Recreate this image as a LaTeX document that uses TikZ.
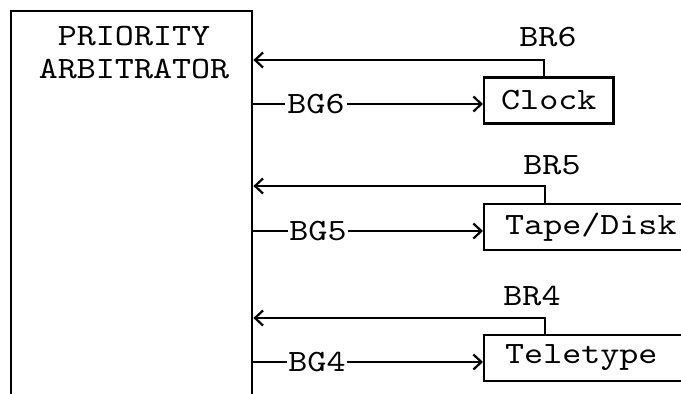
\documentclass[tikz,border=0pt]{standalone}
\usepackage{fontspec}
\setmonofont[FakeStretch=1.17]{lmmono10-regular.otf}
\usetikzlibrary{arrows.meta}
\tikzset{
  lbl/.style={font=\fontsize{31}{33}\selectfont\ttfamily, inner sep=0pt},
  dev/.style={draw, line width=2.4pt, inner ysep=0pt, minimum height=46pt, anchor=west,
              font=\fontsize{31}{33}\selectfont\ttfamily},
  wire/.style={line width=2.2pt},
  tip/.style={-{Straight Barb[length=8pt,width=15pt,line width=2.2pt]}},
}
\begin{document}
\begin{tikzpicture}[x=1pt,y=-1pt]
\useasboundingbox (0,0) rectangle (681,394);
\clip (0,0) rectangle (681,394);
\fill[white] (0,0) rectangle (681,394);
% arbitrator
\node[draw, line width=2.4pt, minimum width=241pt, minimum height=420pt, anchor=north west, inner sep=0pt] (arb) at (10,10) {};
\node[lbl, align=center] (arbtext) at (134,53) {PRIORITY\\ARBITRATOR};
% devices
\node[dev, minimum width=129pt, inner xsep=17pt] (clock) at (483,100.5) {Clock};
\node[dev, text width=210pt, align=left, inner xsep=21pt] (tape) at (483,227) {Tape/Disk};
\node[dev, text width=210pt, align=left, inner xsep=21pt] (tty) at (483,358) {Teletype};
% request points
\coordinate (br6) at (544,60);
\coordinate (br5) at (545,186);
\coordinate (br4) at (545,318);
\node[lbl] (br6l) at (548,37) {BR6};
\node[lbl] (br5l) at (552,165) {BR5};
\node[lbl] (br4l) at (532,296) {BR4};
\draw[wire, tip] (clock.north -| br6) -- (br6) -- (arb.east |- br6);
\draw[wire, tip] (tape.north -| br5) -- (br5) -- (arb.east |- br5);
\draw[wire, tip] (tty.north -| br4) -- (br4) -- (arb.east |- br4);
% grants
\node[lbl, inner xsep=2pt] (bg6) at (316,104) {BG6};
\node[lbl, inner xsep=1pt] (bg5) at (318,231) {BG5};
\node[lbl, inner xsep=1pt] (bg4) at (317,362) {BG4};
\draw[wire] (arb.east |- bg6) -- (bg6.west);
\draw[wire, tip] (bg6.east) -- (clock.west |- bg6);
\draw[wire] (arb.east |- bg5) -- (bg5.west);
\draw[wire, tip] (bg5.east) -- (tape.west |- bg5);
\draw[wire] (arb.east |- bg4) -- (bg4.west);
\draw[wire, tip] (bg4.east) -- (tty.west |- bg4);
\end{tikzpicture}
\end{document}
